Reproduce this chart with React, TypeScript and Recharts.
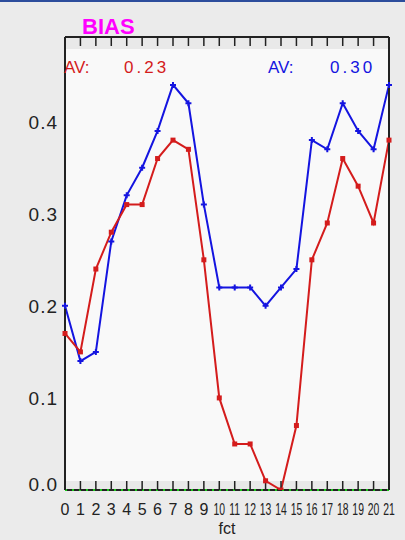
import { LineChart, Line, XAxis, YAxis, CartesianGrid, ReferenceLine, ReferenceArea } from 'recharts'

const fct = [0, 1, 2, 3, 4, 5, 6, 7, 8, 9, 10, 11, 12, 13, 14, 15, 16, 17, 18, 19, 20, 21]
const biasRed = [0.17, 0.15, 0.24, 0.28, 0.31, 0.31, 0.36, 0.38, 0.37, 0.25, 0.10, 0.05, 0.05, 0.01, 0.0, 0.07, 0.25, 0.29, 0.36, 0.33, 0.29, 0.38]
const biasBlue = [0.20, 0.14, 0.15, 0.27, 0.32, 0.35, 0.39, 0.44, 0.42, 0.31, 0.22, 0.22, 0.22, 0.20, 0.22, 0.24, 0.38, 0.37, 0.42, 0.39, 0.37, 0.44]
const yTicks = [0, 0.1, 0.2, 0.3, 0.4]
const avRed = '0.23'
const avBlue = '0.30'

const RED = '#d41c1c'
const BLUE = '#1414e0'
const FONT = '"Liberation Sans", Arial, sans-serif'
const AXIS = { stroke: '#222', strokeWidth: 2 }
const TICK = { stroke: '#222', strokeWidth: 1.5 }

const data = fct.map((f, i) => ({ fct: f, red: biasRed[i], blue: biasBlue[i] }))

const SquareDot = (p: any) => <rect key={p.index} x={p.cx - 2.5} y={p.cy - 2.5} width={5} height={5} fill={RED} />
const PlusDot = (p: any) => (
  <path key={p.index} d={`M${p.cx - 3},${p.cy}h6M${p.cx},${p.cy - 3}v6`} stroke={BLUE} strokeWidth={2} />
)

// two-digit labels are squeezed sideways so they fit in one step
const BottomTick = ({ x, y, payload }: any) => {
  const s = String(payload.value)
  const sx = s.length > 1 ? 0.65 : 1
  return (
    <text transform={`translate(${x},${y + 21}) scale(${sx},1)`} textAnchor="middle" fontSize={16} fontFamily={FONT} fill="#222">{s}</text>
  )
}
const EmptyTick = () => <g />
const LeftTick = ({ x, y, payload }: any) => (
  <text x={x} y={payload.value === 0 ? y + 1 : y + 7} textAnchor="end" fontSize={19} letterSpacing={1} fontFamily={FONT} fill="#222">
    {payload.value.toFixed(1)}
  </text>
)

export default function App() {
  return (
    <div style={{ position: 'fixed', left: 0, top: 0, width: 405, height: 540, background: '#ebebeb', borderTop: '2px solid #2c4d9c', boxSizing: 'border-box' }}>
      <div style={{ position: 'absolute', left: 0, top: -2 }}>
        <LineChart width={405} height={540} data={data} margin={{ top: 36, right: 15, bottom: 0, left: 0 }}>
          <CartesianGrid horizontal={false} vertical={false} fill="#f9f9f9" />
          <ReferenceArea y1={0.479} y2={0.492} fill="#e9e9e9" fillOpacity={1} stroke="none" />
          <ReferenceArea y1={0} y2={0.0098} fill="#e9e9e9" fillOpacity={1} stroke="none" />
          <XAxis dataKey="fct" type="number" domain={[0, 21]} ticks={fct} interval={0} height={50}
            tickSize={-9} tickMargin={13} tickLine={TICK} axisLine={false} tick={BottomTick}
            label={{ value: 'fct', position: 'insideBottom', offset: 6, fontSize: 16, fontFamily: FONT, fill: '#222' }} />
          <XAxis xAxisId="top" orientation="top" dataKey="fct" type="number" domain={[0, 21]} ticks={fct} interval={0} height={1}
            tickSize={-9} tickMargin={0} tickLine={TICK} axisLine={AXIS} tick={EmptyTick} />
          <YAxis domain={[0, 0.492]} ticks={yTicks} allowDataOverflow width={65} tickLine={false} tickSize={0} tickMargin={7}
            axisLine={AXIS} tick={LeftTick} />
          <YAxis yAxisId="right" orientation="right" domain={[0, 0.492]} width={1} tick={false} tickLine={false}
            axisLine={AXIS} />
          <ReferenceLine y={0} stroke="#222" strokeWidth={2} />
          <ReferenceLine y={0} stroke="#18c818" strokeWidth={2} strokeDasharray="2 5" />
          <Line dataKey="blue" stroke={BLUE} strokeWidth={2} dot={PlusDot} activeDot={false} isAnimationActive={false} />
          <Line dataKey="red" stroke={RED} strokeWidth={2} dot={SquareDot} activeDot={false} isAnimationActive={false} />
        </LineChart>
        <svg width={405} height={540} style={{ position: 'absolute', left: 0, top: 0, pointerEvents: 'none' }}>
          <text x={82} y={34} fontSize={22} fontWeight="bold" fontFamily={FONT} fill="#ff00ff">BIAS</text>
          <text x={64} y={73} fontSize={17} fontFamily={FONT} fill={RED}>AV:</text>
          <text x={124} y={73} fontSize={17} letterSpacing={3} fontFamily={FONT} fill={RED}>{avRed}</text>
          <text x={268} y={73} fontSize={17} fontFamily={FONT} fill={BLUE}>AV:</text>
          <text x={330} y={73} fontSize={17} letterSpacing={3} fontFamily={FONT} fill={BLUE}>{avBlue}</text>
        </svg>
      </div>
    </div>
  )
}
